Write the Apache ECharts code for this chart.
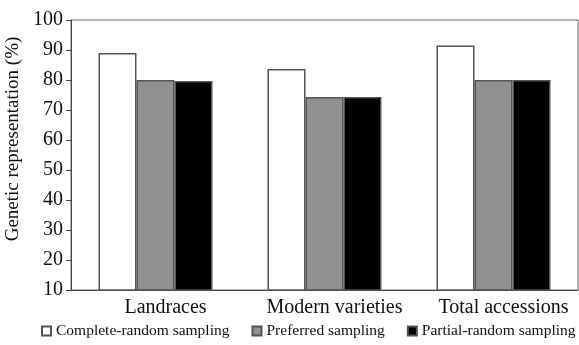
<!DOCTYPE html>
<html>
<head>
<meta charset="utf-8">
<script src="https://cdn.jsdelivr.net/npm/echarts@6/dist/echarts.min.js"></script>
<style>
html, body { margin: 0; padding: 0; background: #fff; }
#main { width: 579px; height: 345px; }
</style>
</head>
<body>
<div id="main"></div>
<script>
var categories = ['Landraces', 'Modern varieties', 'Total accessions'];
var completeRandom = [89, 83.7, 91.5];
var preferred = [80, 74.3, 80];
var partialRandom = [79.7, 74.3, 80];

var myChart = echarts.init(document.getElementById('main'));
var serif = 'Liberation Serif';

var option = {
    animation: false,
    textStyle: { fontFamily: serif },
    grid: {
        left: 71, right: 1, top: 20, bottom: 55,
        outerBoundsMode: 'none',
        show: true, borderColor: '#666', borderWidth: 1
    },
    legend: {
        bottom: 1, left: 36, width: 570, padding: [5, 0, 5, 5],
        icon: 'rect', itemWidth: 9, itemHeight: 9, itemGap: 22,
        textStyle: { fontFamily: serif, fontSize: 15.5, color: '#111' },
        data: ['Complete-random sampling', 'Preferred sampling', 'Partial-random sampling']
    },
    xAxis: {
        type: 'category',
        data: categories,
        axisLine: { lineStyle: { color: '#444', width: 1 } },
        axisTick: { inside: true, length: 4, lineStyle: { color: '#444' } },
        axisLabel: { interval: 0, fontSize: 20, color: '#111', margin: 8, padding: [0, 0, 0, 20] }
    },
    yAxis: {
        type: 'value',
        min: 10, max: 100, interval: 10,
        name: 'Genetic representation (%)',
        nameLocation: 'middle',
        nameGap: 42,
        nameTextStyle: { fontSize: 19, color: '#111', padding: [0, 0, 0, 32] },
        splitLine: { show: false },
        axisLine: { show: true, lineStyle: { color: '#444' } },
        axisTick: { show: true, length: 5, lineStyle: { color: '#444' } },
        axisLabel: { fontSize: 20, color: '#111', margin: 8 }
    },
    series: [
        {
            name: 'Complete-random sampling', type: 'bar', data: completeRandom,
            barWidth: 38, barGap: '0%',
            itemStyle: { color: '#fff', borderColor: '#555', borderWidth: 1.5 }
        },
        {
            name: 'Preferred sampling', type: 'bar', data: preferred,
            barWidth: 38, barGap: '0%',
            itemStyle: { color: '#909090', borderColor: '#555', borderWidth: 1.5 }
        },
        {
            name: 'Partial-random sampling', type: 'bar', data: partialRandom,
            barWidth: 38, barGap: '0%',
            itemStyle: { color: '#000', borderColor: '#555', borderWidth: 1.5 }
        }
    ]
};

myChart.setOption(option);
window.onresize = function() {
    myChart.resize();
};
</script>
</body>
</html>
